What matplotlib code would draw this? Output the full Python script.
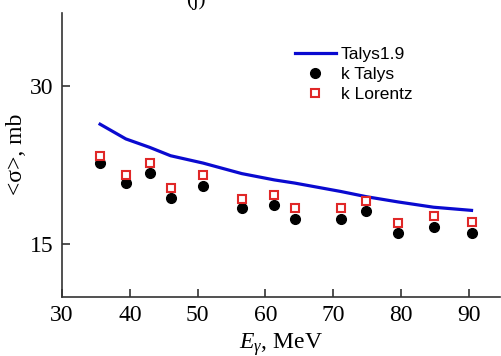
import matplotlib
matplotlib.use('Agg')
import matplotlib.pyplot as plt

# energies (MeV) and flux-averaged cross sections (mb)
energy = [35.6, 39.4, 42.9, 46.0, 50.8, 56.5, 61.3, 64.3, 71.1, 74.9, 79.6, 84.8, 90.4]
talys19 = [26.4, 25.0, 24.2, 23.4, 22.7, 21.7, 21.1, 20.8, 20.0, 19.5, 19.0, 18.5, 18.2]
k_talys = [22.7, 20.8, 21.8, 19.4, 20.5, 18.4, 18.7, 17.4, 17.4, 18.1, 16.0, 16.6, 16.0]
k_lorentz = [23.4, 21.6, 22.7, 20.3, 21.6, 19.3, 19.7, 18.4, 18.4, 19.1, 17.0, 17.7, 17.1]

plt.rcParams['font.family'] = ['Liberation Serif', 'DejaVu Serif']
plt.rcParams['mathtext.fontset'] = 'custom'
plt.rcParams['mathtext.it'] = 'Liberation Serif:italic'
plt.rcParams['mathtext.rm'] = 'Liberation Serif'

fig = plt.figure(figsize=(5.01, 3.56), dpi=100)
ax = fig.add_axes([0.124, 0.167, 0.874, 0.797])

ax.plot(energy, talys19, color='#0a0ad0', linewidth=2.3, label='Talys1.9')
ax.plot(energy, k_talys, 'o', color='black', markersize=7, label='k Talys')
ax.plot(energy, k_lorentz, 's', markerfacecolor='white', markeredgecolor='#e02828',
        markeredgewidth=1.5, markersize=5.5, label='k Lorentz')

ax.set_xlim(30, 94.6)
ax.set_ylim(10, 37)
ax.set_xticks([30, 40, 50, 60, 70, 80, 90])
ax.set_yticks([15, 30])
ax.spines['top'].set_visible(False)
ax.spines['right'].set_visible(False)
for s in ['left', 'bottom']:
    ax.spines[s].set_linewidth(1.2)
    ax.spines[s].set_color('#333333')
ax.tick_params(direction='in', length=6, width=1.2, color='#333333', labelsize=17, pad=6)

ax.set_xlabel(r'$E_{\gamma}$, MeV', fontsize=17, labelpad=4)
ax.set_ylabel('<σ>, mb', fontsize=17, labelpad=2)

leg = ax.legend(loc='upper left', bbox_to_anchor=(0.515, 0.905), frameon=False,
                prop={'family': 'Liberation Sans', 'size': 12.5},
                handlelength=2.4, handletextpad=0.25, labelspacing=0.28, borderaxespad=0)

# panel label, cut off at the top edge as in the source figure
fig.text(0.39, 1.0, '(j)', fontsize=15, ha='center', va='center')

fig.savefig('out.png', dpi=100)
